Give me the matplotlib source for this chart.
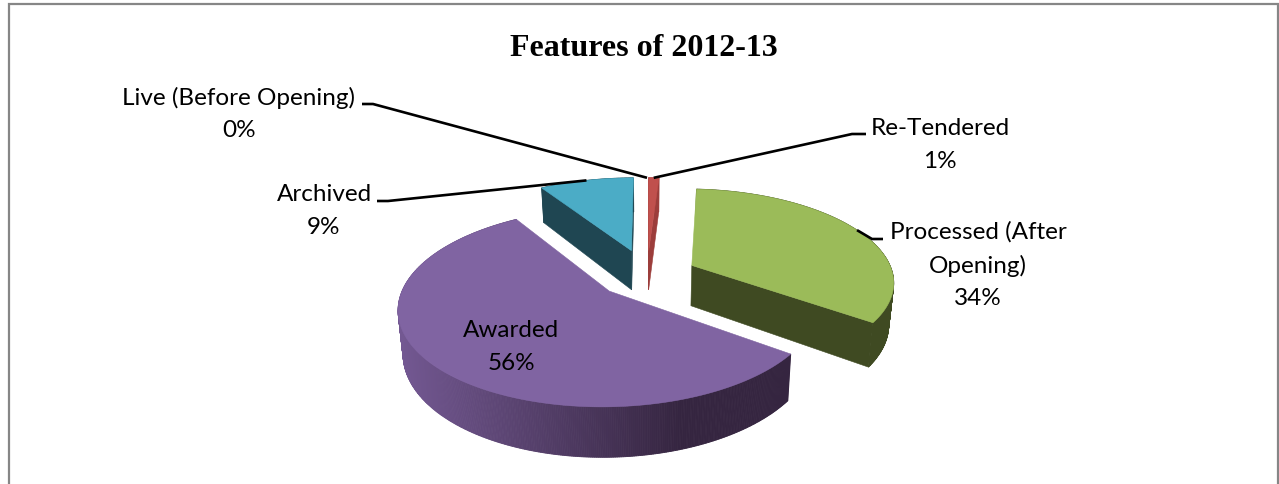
import numpy as np
import matplotlib
matplotlib.use('Agg')
import matplotlib.pyplot as plt
from matplotlib.colors import to_rgb
from matplotlib.patches import Polygon

# values
categories = ['Re-Tendered', 'Processed (After\nOpening)', 'Awarded', 'Archived', 'Live (Before Opening)']
shares = [1, 34, 56, 9, 0]
title = 'Features of 2012-13'

# styles, same order as categories
explode = [0.28, 0.25, 0.25, 0.29, 0.28]
top_colors = ['#c0504d', '#9bbb59', '#8064a2', '#4bacc6', '#4bacc6']
cut_colors = ['#9c3d3b', '#3f4a22', '#352540', '#1f4652', '#1f4652']
wall_left = ['#9c3d3b', '#3f4a22', '#735892', '#1f4652', '#1f4652']
wall_right = ['#9c3d3b', '#3f4a22', '#352540', '#1f4652', '#1f4652']

# projection of the tilted pie onto the figure, in pixels
x0, y0 = 647, 276
rx, ry = 201.5, 91.5
depth = 41
persp = 0.16


def project(X, Y, z=0.0):
    s = 1 / (1 + persp * np.asarray(Y))
    return x0 + rx * np.asarray(X) * s * (1 - 0.02 * z), y0 - ry * np.asarray(Y) * s + depth * s * z


def signed_area(px, py):
    return 0.5 * np.sum(px * np.roll(py, -1) - np.roll(px, -1) * py)


def outer_point(angle, i):
    # exploded position of the rim at an angle measured clockwise from 12 o'clock
    mid = np.radians(slice_mid[i])
    a = np.radians(angle)
    return explode[i] * np.sin(mid) + np.sin(a), explode[i] * np.cos(mid) + np.cos(a)


fig = plt.figure(figsize=(12.79, 4.85), dpi=100)
ax = fig.add_axes([0, 0, 1, 1])
ax.set_xlim(0, 1279)
ax.set_ylim(485, 0)
ax.axis('off')

# frame, open at the bottom
ax.plot([8.5, 8.5, 1278, 1278], [485, 5, 5, 485], color='#868686', lw=1.6, solid_joinstyle='miter')

edges = np.cumsum([0] + shares) * 3.6
slice_start = edges[:-1]
slice_end = edges[1:]
slice_mid = (slice_start + slice_end) / 2

# back slices first
for i in [3, 0, 1, 2]:
    angles = np.linspace(slice_start[i], slice_end[i], max(int(shares[i] * 8), 4))
    X, Y = outer_point(angles, i)
    mid = np.radians(slice_mid[i])
    cx, cy = explode[i] * np.sin(mid), explode[i] * np.cos(mid)

    tx, ty = project(X, Y)
    bx, by = project(X, Y, 1)
    apex_tx, apex_ty = project(cx, cy)
    apex_bx, apex_by = project(cx, cy, 1)

    # outer wall, shaded from left to right
    left, right = to_rgb(wall_left[i]), to_rgb(wall_right[i])
    span = max(tx.max() - tx.min(), 1)
    for k in range(len(angles) - 1):
        t = min(((tx[k] + tx[k + 1]) / 2 - tx.min()) / (0.72 * span), 1)
        col = [left[c] + (right[c] - left[c]) * t for c in range(3)]
        quad = np.array([[tx[k], ty[k]], [tx[k + 1], ty[k + 1]], [bx[k + 1], by[k + 1]], [bx[k], by[k]]])
        ax.add_patch(Polygon(quad, closed=True, facecolor=col, edgecolor=col, lw=0.6, zorder=i + 1))

    # cut faces, only those turned towards the viewer
    for n, sign in [(0, 1), (-1, -1)]:
        fx = np.array([tx[n], apex_tx, apex_bx, bx[n]])
        fy = np.array([ty[n], apex_ty, apex_by, by[n]])
        if signed_area(fx, fy) * sign > 0:
            ax.add_patch(Polygon(np.column_stack([fx, fy]), closed=True, facecolor=cut_colors[i],
                                 edgecolor=cut_colors[i], lw=0.4, zorder=i + 1.2))

    # top face
    top = np.column_stack([np.append(tx, apex_tx), np.append(ty, apex_ty)])
    ax.add_patch(Polygon(top, closed=True, facecolor=top_colors[i], edgecolor=top_colors[i], lw=0.4, zorder=i + 1.4))

# leader lines run from the rim to an elbow next to the label
leader_elbow = {0: [(852, 135), (866, 135)], 1: [(872, 240), (883, 240)],
                3: [(388, 202), (377, 202)], 4: [(373, 105), (362, 105)]}
for i, pts in leader_elbow.items():
    sx, sy = project(*outer_point(slice_mid[i], i))
    xs = [float(sx)] + [p[0] for p in pts]
    ys = [float(sy)] + [p[1] for p in pts]
    ax.plot(xs, ys, color='black', lw=1.9, zorder=10, solid_capstyle='butt')

# labels
label_pos = [(940, 145), (978, 265), (511, 347), (324, 211), (239, 114)]
for name, share, (lx, ly) in zip(categories, shares, label_pos):
    ax.text(lx, ly, f'{name}\n{share}%', ha='center', va='center', family='Lato', fontsize=17.5,
            color='black', linespacing=1.68, zorder=11)

ax.text(644, 49, title, ha='center', va='center', family='Liberation Serif', fontweight='bold',
        fontsize=23, color='black')

plt.savefig('out.png', dpi=100)
